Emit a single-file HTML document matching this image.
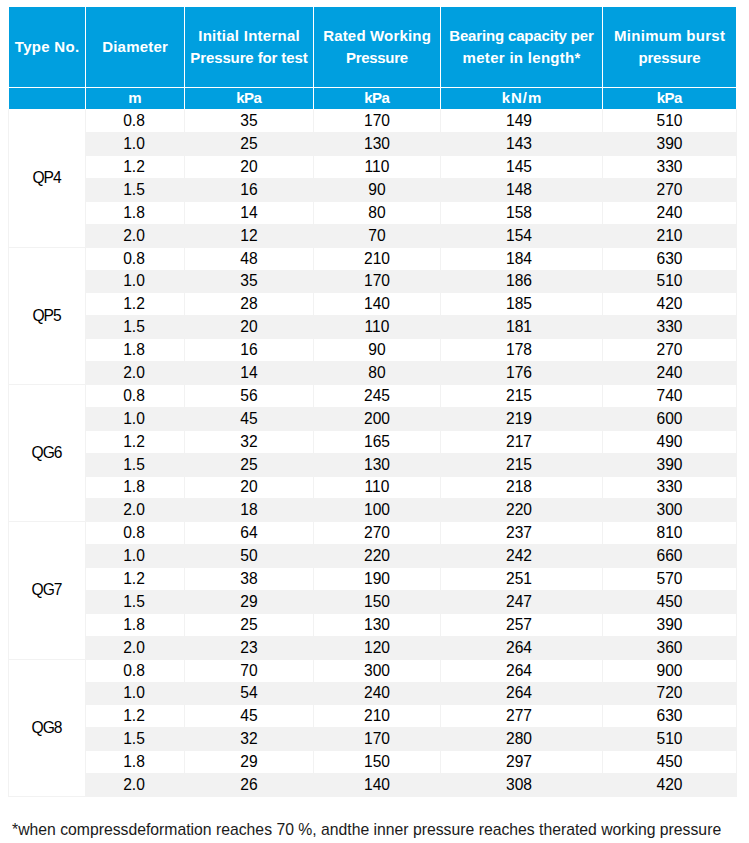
<!DOCTYPE html>
<html><head><meta charset="utf-8"><style>
html,body{margin:0;padding:0;background:#fff;}
body{width:749px;height:843px;position:relative;overflow:hidden;font-family:"Liberation Sans",sans-serif;}
.a{position:absolute;}
.h{position:absolute;color:#fff;font-weight:bold;font-size:15px;line-height:22px;text-align:center;display:flex;align-items:center;justify-content:center;white-space:nowrap;}
.u{position:absolute;color:#fff;font-weight:bold;font-size:15px;text-align:center;white-space:nowrap;}
.d{position:absolute;color:#000;font-size:15.6px;text-align:center;white-space:nowrap;}
</style></head><body>

<div class="a" style="left:9px;top:7px;width:727px;height:102px;background:#009FDF"></div>
<div class="a" style="left:85px;top:7px;width:1px;height:102px;background:#fff"></div>
<div class="a" style="left:184px;top:7px;width:1px;height:102px;background:#fff"></div>
<div class="a" style="left:313px;top:7px;width:1px;height:102px;background:#fff"></div>
<div class="a" style="left:440px;top:7px;width:1px;height:102px;background:#fff"></div>
<div class="a" style="left:602px;top:7px;width:1px;height:102px;background:#fff"></div>
<div class="a" style="left:9px;top:87px;width:727px;height:1px;background:#fff"></div>
<div class="h" style="left:9px;top:6.8px;width:76px;height:80px"><span style="letter-spacing:0.29px;margin-right:-0.29px">Type No.</span></div>
<div class="h" style="left:86px;top:6.8px;width:98px;height:80px"><span style="letter-spacing:0.19px;margin-right:-0.19px">Diameter</span></div>
<div class="u" style="left:86px;top:87px;width:98px;height:21px;line-height:21px"><span style="letter-spacing:0px;margin-right:0px">m</span></div>
<div class="h" style="left:185px;top:6.5px;width:128px;height:80px"><div><span style="letter-spacing:0.27px;margin-right:-0.27px">Initial Internal</span><br><span style="letter-spacing:-0.12px;margin-right:0.12px">Pressure for test</span></div></div>
<div class="u" style="left:185px;top:87px;width:128px;height:21px;line-height:21px"><span style="letter-spacing:-0.6px;margin-right:0.6px">kPa</span></div>
<div class="h" style="left:314px;top:6.5px;width:126px;height:80px"><div><span style="letter-spacing:0.17px;margin-right:-0.17px">Rated Working</span><br><span style="letter-spacing:-0.3px;margin-right:0.3px">Pressure</span></div></div>
<div class="u" style="left:314px;top:87px;width:126px;height:21px;line-height:21px"><span style="letter-spacing:-0.6px;margin-right:0.6px">kPa</span></div>
<div class="h" style="left:441px;top:6.5px;width:161px;height:80px"><div><span style="letter-spacing:-0.16px;margin-right:0.16px">Bearing capacity per</span><br><span style="letter-spacing:0.3px;margin-right:-0.3px">meter in length*</span></div></div>
<div class="u" style="left:441px;top:87px;width:161px;height:21px;line-height:21px"><span style="letter-spacing:1.0px;margin-right:-1.0px">kN/m</span></div>
<div class="h" style="left:603px;top:6.5px;width:133px;height:80px"><div><span style="letter-spacing:0.28px;margin-right:-0.28px">Minimum burst</span><br><span style="letter-spacing:-0.19px;margin-right:0.19px">pressure</span></div></div>
<div class="u" style="left:603px;top:87px;width:133px;height:21px;line-height:21px"><span style="letter-spacing:-0.6px;margin-right:0.6px">kPa</span></div>
<div class="a" style="left:85px;top:132px;width:652px;height:24px;background:#F2F2F2"></div>
<div class="a" style="left:85px;top:178px;width:652px;height:24px;background:#F2F2F2"></div>
<div class="a" style="left:85px;top:224px;width:652px;height:24px;background:#F2F2F2"></div>
<div class="a" style="left:85px;top:270px;width:652px;height:23px;background:#F2F2F2"></div>
<div class="a" style="left:85px;top:315px;width:652px;height:24px;background:#F2F2F2"></div>
<div class="a" style="left:85px;top:361px;width:652px;height:24px;background:#F2F2F2"></div>
<div class="a" style="left:85px;top:407px;width:652px;height:24px;background:#F2F2F2"></div>
<div class="a" style="left:85px;top:453px;width:652px;height:24px;background:#F2F2F2"></div>
<div class="a" style="left:85px;top:498px;width:652px;height:24px;background:#F2F2F2"></div>
<div class="a" style="left:85px;top:544px;width:652px;height:24px;background:#F2F2F2"></div>
<div class="a" style="left:85px;top:590px;width:652px;height:24px;background:#F2F2F2"></div>
<div class="a" style="left:85px;top:636px;width:652px;height:24px;background:#F2F2F2"></div>
<div class="a" style="left:85px;top:682px;width:652px;height:23px;background:#F2F2F2"></div>
<div class="a" style="left:85px;top:727px;width:652px;height:24px;background:#F2F2F2"></div>
<div class="a" style="left:85px;top:773px;width:652px;height:24px;background:#F2F2F2"></div>
<div class="a" style="left:85px;top:109px;width:1px;height:688px;background:#F2F2F2"></div>
<div class="a" style="left:184px;top:109px;width:1px;height:688px;background:#F2F2F2"></div>
<div class="a" style="left:313px;top:109px;width:1px;height:688px;background:#F2F2F2"></div>
<div class="a" style="left:440px;top:109px;width:1px;height:688px;background:#F2F2F2"></div>
<div class="a" style="left:602px;top:109px;width:1px;height:688px;background:#F2F2F2"></div>
<div class="a" style="left:8px;top:109px;width:1px;height:688px;background:#F2F2F2"></div>
<div class="a" style="left:736px;top:109px;width:1px;height:688px;background:#F2F2F2"></div>
<div class="a" style="left:8px;top:247px;width:77px;height:1px;background:#F2F2F2"></div>
<div class="a" style="left:8px;top:384px;width:77px;height:1px;background:#F2F2F2"></div>
<div class="a" style="left:8px;top:521px;width:77px;height:1px;background:#F2F2F2"></div>
<div class="a" style="left:8px;top:659px;width:77px;height:1px;background:#F2F2F2"></div>
<div class="a" style="left:8px;top:796px;width:729px;height:1px;background:#F2F2F2"></div>
<div class="d" style="left:9px;top:109px;width:76px;height:138px;line-height:138px"><span style="letter-spacing:-1px;margin-right:1px">QP4</span></div>
<div class="d" style="left:85px;top:109px;width:98px;height:23px;line-height:23px">0.8</div>
<div class="d" style="left:185px;top:109px;width:128px;height:23px;line-height:23px">35</div>
<div class="d" style="left:314px;top:109px;width:126px;height:23px;line-height:23px">170</div>
<div class="d" style="left:438.5px;top:109px;width:161px;height:23px;line-height:23px">149</div>
<div class="d" style="left:603px;top:109px;width:133px;height:23px;line-height:23px">510</div>
<div class="d" style="left:85px;top:132px;width:98px;height:23px;line-height:23px">1.0</div>
<div class="d" style="left:185px;top:132px;width:128px;height:23px;line-height:23px">25</div>
<div class="d" style="left:314px;top:132px;width:126px;height:23px;line-height:23px">130</div>
<div class="d" style="left:438.5px;top:132px;width:161px;height:23px;line-height:23px">143</div>
<div class="d" style="left:603px;top:132px;width:133px;height:23px;line-height:23px">390</div>
<div class="d" style="left:85px;top:155px;width:98px;height:23px;line-height:23px">1.2</div>
<div class="d" style="left:185px;top:155px;width:128px;height:23px;line-height:23px">20</div>
<div class="d" style="left:314px;top:155px;width:126px;height:23px;line-height:23px">110</div>
<div class="d" style="left:438.5px;top:155px;width:161px;height:23px;line-height:23px">145</div>
<div class="d" style="left:603px;top:155px;width:133px;height:23px;line-height:23px">330</div>
<div class="d" style="left:85px;top:178px;width:98px;height:23px;line-height:23px">1.5</div>
<div class="d" style="left:185px;top:178px;width:128px;height:23px;line-height:23px">16</div>
<div class="d" style="left:314px;top:178px;width:126px;height:23px;line-height:23px">90</div>
<div class="d" style="left:438.5px;top:178px;width:161px;height:23px;line-height:23px">148</div>
<div class="d" style="left:603px;top:178px;width:133px;height:23px;line-height:23px">270</div>
<div class="d" style="left:85px;top:201px;width:98px;height:23px;line-height:23px">1.8</div>
<div class="d" style="left:185px;top:201px;width:128px;height:23px;line-height:23px">14</div>
<div class="d" style="left:314px;top:201px;width:126px;height:23px;line-height:23px">80</div>
<div class="d" style="left:438.5px;top:201px;width:161px;height:23px;line-height:23px">158</div>
<div class="d" style="left:603px;top:201px;width:133px;height:23px;line-height:23px">240</div>
<div class="d" style="left:85px;top:224px;width:98px;height:23px;line-height:23px">2.0</div>
<div class="d" style="left:185px;top:224px;width:128px;height:23px;line-height:23px">12</div>
<div class="d" style="left:314px;top:224px;width:126px;height:23px;line-height:23px">70</div>
<div class="d" style="left:438.5px;top:224px;width:161px;height:23px;line-height:23px">154</div>
<div class="d" style="left:603px;top:224px;width:133px;height:23px;line-height:23px">210</div>
<div class="d" style="left:9px;top:247px;width:76px;height:137px;line-height:137px"><span style="letter-spacing:-1px;margin-right:1px">QP5</span></div>
<div class="d" style="left:85px;top:247px;width:98px;height:23px;line-height:23px">0.8</div>
<div class="d" style="left:185px;top:247px;width:128px;height:23px;line-height:23px">48</div>
<div class="d" style="left:314px;top:247px;width:126px;height:23px;line-height:23px">210</div>
<div class="d" style="left:438.5px;top:247px;width:161px;height:23px;line-height:23px">184</div>
<div class="d" style="left:603px;top:247px;width:133px;height:23px;line-height:23px">630</div>
<div class="d" style="left:85px;top:270px;width:98px;height:22px;line-height:22px">1.0</div>
<div class="d" style="left:185px;top:270px;width:128px;height:22px;line-height:22px">35</div>
<div class="d" style="left:314px;top:270px;width:126px;height:22px;line-height:22px">170</div>
<div class="d" style="left:438.5px;top:270px;width:161px;height:22px;line-height:22px">186</div>
<div class="d" style="left:603px;top:270px;width:133px;height:22px;line-height:22px">510</div>
<div class="d" style="left:85px;top:292px;width:98px;height:23px;line-height:23px">1.2</div>
<div class="d" style="left:185px;top:292px;width:128px;height:23px;line-height:23px">28</div>
<div class="d" style="left:314px;top:292px;width:126px;height:23px;line-height:23px">140</div>
<div class="d" style="left:438.5px;top:292px;width:161px;height:23px;line-height:23px">185</div>
<div class="d" style="left:603px;top:292px;width:133px;height:23px;line-height:23px">420</div>
<div class="d" style="left:85px;top:315px;width:98px;height:23px;line-height:23px">1.5</div>
<div class="d" style="left:185px;top:315px;width:128px;height:23px;line-height:23px">20</div>
<div class="d" style="left:314px;top:315px;width:126px;height:23px;line-height:23px">110</div>
<div class="d" style="left:438.5px;top:315px;width:161px;height:23px;line-height:23px">181</div>
<div class="d" style="left:603px;top:315px;width:133px;height:23px;line-height:23px">330</div>
<div class="d" style="left:85px;top:338px;width:98px;height:23px;line-height:23px">1.8</div>
<div class="d" style="left:185px;top:338px;width:128px;height:23px;line-height:23px">16</div>
<div class="d" style="left:314px;top:338px;width:126px;height:23px;line-height:23px">90</div>
<div class="d" style="left:438.5px;top:338px;width:161px;height:23px;line-height:23px">178</div>
<div class="d" style="left:603px;top:338px;width:133px;height:23px;line-height:23px">270</div>
<div class="d" style="left:85px;top:361px;width:98px;height:23px;line-height:23px">2.0</div>
<div class="d" style="left:185px;top:361px;width:128px;height:23px;line-height:23px">14</div>
<div class="d" style="left:314px;top:361px;width:126px;height:23px;line-height:23px">80</div>
<div class="d" style="left:438.5px;top:361px;width:161px;height:23px;line-height:23px">176</div>
<div class="d" style="left:603px;top:361px;width:133px;height:23px;line-height:23px">240</div>
<div class="d" style="left:9px;top:384px;width:76px;height:137px;line-height:137px"><span style="letter-spacing:-1px;margin-right:1px">QG6</span></div>
<div class="d" style="left:85px;top:384px;width:98px;height:23px;line-height:23px">0.8</div>
<div class="d" style="left:185px;top:384px;width:128px;height:23px;line-height:23px">56</div>
<div class="d" style="left:314px;top:384px;width:126px;height:23px;line-height:23px">245</div>
<div class="d" style="left:438.5px;top:384px;width:161px;height:23px;line-height:23px">215</div>
<div class="d" style="left:603px;top:384px;width:133px;height:23px;line-height:23px">740</div>
<div class="d" style="left:85px;top:407px;width:98px;height:23px;line-height:23px">1.0</div>
<div class="d" style="left:185px;top:407px;width:128px;height:23px;line-height:23px">45</div>
<div class="d" style="left:314px;top:407px;width:126px;height:23px;line-height:23px">200</div>
<div class="d" style="left:438.5px;top:407px;width:161px;height:23px;line-height:23px">219</div>
<div class="d" style="left:603px;top:407px;width:133px;height:23px;line-height:23px">600</div>
<div class="d" style="left:85px;top:430px;width:98px;height:23px;line-height:23px">1.2</div>
<div class="d" style="left:185px;top:430px;width:128px;height:23px;line-height:23px">32</div>
<div class="d" style="left:314px;top:430px;width:126px;height:23px;line-height:23px">165</div>
<div class="d" style="left:438.5px;top:430px;width:161px;height:23px;line-height:23px">217</div>
<div class="d" style="left:603px;top:430px;width:133px;height:23px;line-height:23px">490</div>
<div class="d" style="left:85px;top:453px;width:98px;height:23px;line-height:23px">1.5</div>
<div class="d" style="left:185px;top:453px;width:128px;height:23px;line-height:23px">25</div>
<div class="d" style="left:314px;top:453px;width:126px;height:23px;line-height:23px">130</div>
<div class="d" style="left:438.5px;top:453px;width:161px;height:23px;line-height:23px">215</div>
<div class="d" style="left:603px;top:453px;width:133px;height:23px;line-height:23px">390</div>
<div class="d" style="left:85px;top:476px;width:98px;height:22px;line-height:22px">1.8</div>
<div class="d" style="left:185px;top:476px;width:128px;height:22px;line-height:22px">20</div>
<div class="d" style="left:314px;top:476px;width:126px;height:22px;line-height:22px">110</div>
<div class="d" style="left:438.5px;top:476px;width:161px;height:22px;line-height:22px">218</div>
<div class="d" style="left:603px;top:476px;width:133px;height:22px;line-height:22px">330</div>
<div class="d" style="left:85px;top:498px;width:98px;height:23px;line-height:23px">2.0</div>
<div class="d" style="left:185px;top:498px;width:128px;height:23px;line-height:23px">18</div>
<div class="d" style="left:314px;top:498px;width:126px;height:23px;line-height:23px">100</div>
<div class="d" style="left:438.5px;top:498px;width:161px;height:23px;line-height:23px">220</div>
<div class="d" style="left:603px;top:498px;width:133px;height:23px;line-height:23px">300</div>
<div class="d" style="left:9px;top:521px;width:76px;height:138px;line-height:138px"><span style="letter-spacing:-1px;margin-right:1px">QG7</span></div>
<div class="d" style="left:85px;top:521px;width:98px;height:23px;line-height:23px">0.8</div>
<div class="d" style="left:185px;top:521px;width:128px;height:23px;line-height:23px">64</div>
<div class="d" style="left:314px;top:521px;width:126px;height:23px;line-height:23px">270</div>
<div class="d" style="left:438.5px;top:521px;width:161px;height:23px;line-height:23px">237</div>
<div class="d" style="left:603px;top:521px;width:133px;height:23px;line-height:23px">810</div>
<div class="d" style="left:85px;top:544px;width:98px;height:23px;line-height:23px">1.0</div>
<div class="d" style="left:185px;top:544px;width:128px;height:23px;line-height:23px">50</div>
<div class="d" style="left:314px;top:544px;width:126px;height:23px;line-height:23px">220</div>
<div class="d" style="left:438.5px;top:544px;width:161px;height:23px;line-height:23px">242</div>
<div class="d" style="left:603px;top:544px;width:133px;height:23px;line-height:23px">660</div>
<div class="d" style="left:85px;top:567px;width:98px;height:23px;line-height:23px">1.2</div>
<div class="d" style="left:185px;top:567px;width:128px;height:23px;line-height:23px">38</div>
<div class="d" style="left:314px;top:567px;width:126px;height:23px;line-height:23px">190</div>
<div class="d" style="left:438.5px;top:567px;width:161px;height:23px;line-height:23px">251</div>
<div class="d" style="left:603px;top:567px;width:133px;height:23px;line-height:23px">570</div>
<div class="d" style="left:85px;top:590px;width:98px;height:23px;line-height:23px">1.5</div>
<div class="d" style="left:185px;top:590px;width:128px;height:23px;line-height:23px">29</div>
<div class="d" style="left:314px;top:590px;width:126px;height:23px;line-height:23px">150</div>
<div class="d" style="left:438.5px;top:590px;width:161px;height:23px;line-height:23px">247</div>
<div class="d" style="left:603px;top:590px;width:133px;height:23px;line-height:23px">450</div>
<div class="d" style="left:85px;top:613px;width:98px;height:23px;line-height:23px">1.8</div>
<div class="d" style="left:185px;top:613px;width:128px;height:23px;line-height:23px">25</div>
<div class="d" style="left:314px;top:613px;width:126px;height:23px;line-height:23px">130</div>
<div class="d" style="left:438.5px;top:613px;width:161px;height:23px;line-height:23px">257</div>
<div class="d" style="left:603px;top:613px;width:133px;height:23px;line-height:23px">390</div>
<div class="d" style="left:85px;top:636px;width:98px;height:23px;line-height:23px">2.0</div>
<div class="d" style="left:185px;top:636px;width:128px;height:23px;line-height:23px">23</div>
<div class="d" style="left:314px;top:636px;width:126px;height:23px;line-height:23px">120</div>
<div class="d" style="left:438.5px;top:636px;width:161px;height:23px;line-height:23px">264</div>
<div class="d" style="left:603px;top:636px;width:133px;height:23px;line-height:23px">360</div>
<div class="d" style="left:9px;top:659px;width:76px;height:137px;line-height:137px"><span style="letter-spacing:-1px;margin-right:1px">QG8</span></div>
<div class="d" style="left:85px;top:659px;width:98px;height:23px;line-height:23px">0.8</div>
<div class="d" style="left:185px;top:659px;width:128px;height:23px;line-height:23px">70</div>
<div class="d" style="left:314px;top:659px;width:126px;height:23px;line-height:23px">300</div>
<div class="d" style="left:438.5px;top:659px;width:161px;height:23px;line-height:23px">264</div>
<div class="d" style="left:603px;top:659px;width:133px;height:23px;line-height:23px">900</div>
<div class="d" style="left:85px;top:682px;width:98px;height:22px;line-height:22px">1.0</div>
<div class="d" style="left:185px;top:682px;width:128px;height:22px;line-height:22px">54</div>
<div class="d" style="left:314px;top:682px;width:126px;height:22px;line-height:22px">240</div>
<div class="d" style="left:438.5px;top:682px;width:161px;height:22px;line-height:22px">264</div>
<div class="d" style="left:603px;top:682px;width:133px;height:22px;line-height:22px">720</div>
<div class="d" style="left:85px;top:704px;width:98px;height:23px;line-height:23px">1.2</div>
<div class="d" style="left:185px;top:704px;width:128px;height:23px;line-height:23px">45</div>
<div class="d" style="left:314px;top:704px;width:126px;height:23px;line-height:23px">210</div>
<div class="d" style="left:438.5px;top:704px;width:161px;height:23px;line-height:23px">277</div>
<div class="d" style="left:603px;top:704px;width:133px;height:23px;line-height:23px">630</div>
<div class="d" style="left:85px;top:727px;width:98px;height:23px;line-height:23px">1.5</div>
<div class="d" style="left:185px;top:727px;width:128px;height:23px;line-height:23px">32</div>
<div class="d" style="left:314px;top:727px;width:126px;height:23px;line-height:23px">170</div>
<div class="d" style="left:438.5px;top:727px;width:161px;height:23px;line-height:23px">280</div>
<div class="d" style="left:603px;top:727px;width:133px;height:23px;line-height:23px">510</div>
<div class="d" style="left:85px;top:750px;width:98px;height:23px;line-height:23px">1.8</div>
<div class="d" style="left:185px;top:750px;width:128px;height:23px;line-height:23px">29</div>
<div class="d" style="left:314px;top:750px;width:126px;height:23px;line-height:23px">150</div>
<div class="d" style="left:438.5px;top:750px;width:161px;height:23px;line-height:23px">297</div>
<div class="d" style="left:603px;top:750px;width:133px;height:23px;line-height:23px">450</div>
<div class="d" style="left:85px;top:773px;width:98px;height:23px;line-height:23px">2.0</div>
<div class="d" style="left:185px;top:773px;width:128px;height:23px;line-height:23px">26</div>
<div class="d" style="left:314px;top:773px;width:126px;height:23px;line-height:23px">140</div>
<div class="d" style="left:438.5px;top:773px;width:161px;height:23px;line-height:23px">308</div>
<div class="d" style="left:603px;top:773px;width:133px;height:23px;line-height:23px">420</div>
<div class="a" style="left:12px;top:820px;font-size:15.75px;color:#1a1a1a;white-space:nowrap;line-height:20px">*when compressdeformation reaches 70 %, andthe inner pressure reaches therated working pressure</div>
</body></html>
